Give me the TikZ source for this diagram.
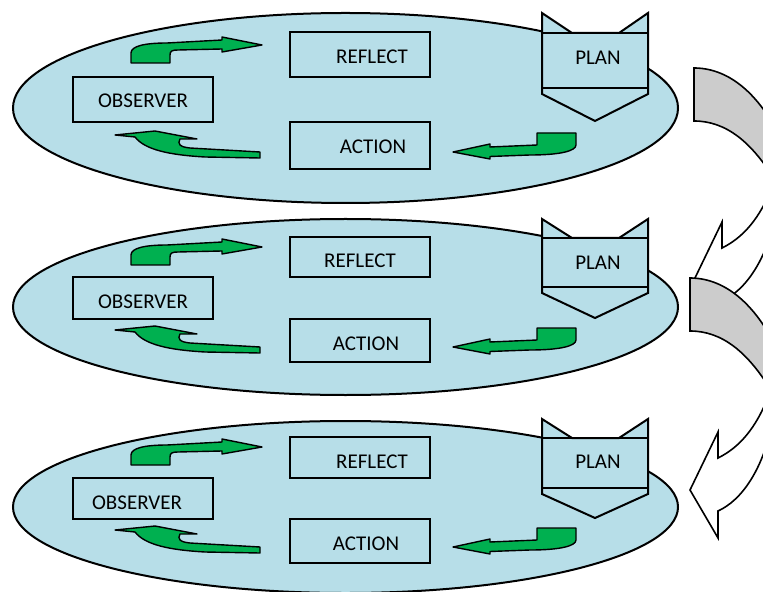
\documentclass[tikz,border=0pt]{standalone}
\usepackage{fontspec}
\setmainfont{Carlito}
\definecolor{lblue}{HTML}{B7DEE8}
\definecolor{ggreen}{HTML}{00B050}
\definecolor{lgray}{HTML}{CCCCCC}
\newcommand\plnshape[5]{%
  \draw[box] (542,#1) -- (572,#2) -- (619,#2) -- (648,#1) -- (648,#4) -- (595,#5) -- (542,#4) -- cycle;
  \draw[box] (542,#2) -- (648,#2);
  \draw[box] (542,#3) -- (648,#3);}
\newcommand\gTop{%
  \draw[garrow] (131,63) -- (131,53) .. controls (131,46) and (145,43) .. (167,43) -- (222,40) -- (222,37) -- (262,45) -- (222,52) -- (222,49) -- (178,50) .. controls (172,50) and (170,51) .. (170,55) -- (170,63) -- cycle;}
\newcommand\gBot{%
  \draw[garrow] (115,135) -- (155,131) -- (197,139) -- (180,139) .. controls (177,144) and (180,147) .. (190,148) -- (260,152) -- (260,158) -- (205,157) .. controls (170,155) and (145,150) .. (135,137) -- cycle;}
\newcommand\gRight{%
  \draw[garrow] (453,152) -- (490,144) -- (490,147) -- (537,145) -- (537,133) -- (576,133) -- (576,145) .. controls (576,151) and (560,155) .. (530,155) -- (490,156.5) -- (490,159) -- cycle;}
\newcommand\curvarrow{%
  \draw[chead] (770,392) .. controls (756,430) and (738,448) .. (718,458) -- (718,432) -- (690,490) -- (718,538) -- (718,511) .. controls (742,500) and (762,470) .. (772,425) -- cycle;
  \draw[cband] (690,331) -- (690,278) .. controls (722,278) and (752,300) .. (775,345) -- (772,392) .. controls (748,352) and (722,331) .. (690,331) -- cycle;}
\begin{document}
\begin{tikzpicture}[x=0.5pt,y=-0.5pt,
  ell/.style={fill=lblue,draw=black,line width=1pt},
  box/.style={fill=lblue,draw=black,line width=1pt},
  lbl/.style={inner sep=0pt,font=\fontsize{10.5}{12}\selectfont},
  garrow/.style={fill=ggreen,draw=black,line width=0.7pt,line join=round},
  cband/.style={fill=lgray,draw=black,line width=0.8pt},
  chead/.style={fill=white,draw=black,line width=0.8pt}]
\useasboundingbox (0,0) rectangle (763,592);
\clip (0,0) rectangle (763,592);
% right curved arrows
\begin{scope}[shift={(4,-210)}]\curvarrow\end{scope}
\curvarrow
% ---------- cycle 1
\draw[ell] (345.5,108) ellipse [x radius=166.25pt, y radius=47.5pt];
\draw[box] (290,32) rectangle (430,77);
\draw[box] (73,77) rectangle (213,122);
\draw[box] (290,122) rectangle (430,169);
\plnshape{13}{33}{88}{94}{121}
\node[lbl] (reflect1) at (372,57) {REFLECT};
\node[lbl] (observer1) at (143,101) {OBSERVER};
\node[lbl] (action1) at (373,147) {ACTION};
\node[lbl] (plan1) at (598,58) {PLAN};
\gTop \gBot \gRight
% ---------- cycle 2
\draw[ell] (345.5,307) ellipse [x radius=166.25pt, y radius=44pt];
\draw[box] (290,237) rectangle (430,277);
\draw[box] (73,277) rectangle (213,319);
\draw[box] (290,319) rectangle (430,362);
\plnshape{219}{238}{287}{293}{318}
\node[lbl] (reflect2) at (360,261) {REFLECT};
\node[lbl] (observer2) at (143,302) {OBSERVER};
\node[lbl] (action2) at (366,344) {ACTION};
\node[lbl] (plan2) at (598,263) {PLAN};
\begin{scope}[shift={(0,202)}]\gTop\end{scope}
\begin{scope}[shift={(0,195)}]\gBot\gRight\end{scope}
% ---------- cycle 3
\draw[ell] (345.5,507) ellipse [x radius=166.25pt, y radius=43pt];
\draw[box] (290,437) rectangle (430,478);
\draw[box] (73,478) rectangle (213,519);
\draw[box] (290,519) rectangle (430,563);
\plnshape{419}{438}{488}{494}{518}
\node[lbl] (reflect3) at (372,462) {REFLECT};
\node[lbl] (observer3) at (137,503) {OBSERVER};
\node[lbl] (action3) at (366,544) {ACTION};
\node[lbl] (plan3) at (598,462) {PLAN};
\begin{scope}[shift={(0,402)}]\gTop\end{scope}
\begin{scope}[shift={(0,395)}]\gBot\gRight\end{scope}
\end{tikzpicture}
\end{document}
